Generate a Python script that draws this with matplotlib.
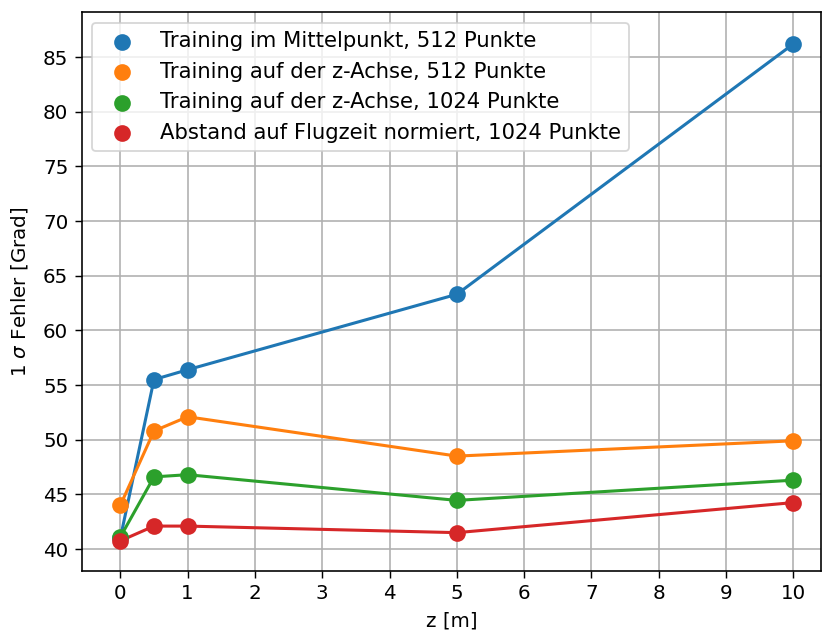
import matplotlib
matplotlib.use("Agg")
import matplotlib.pyplot as plt

z = [0, 0.5, 1, 5, 10]

labels = [
    "Training im Mittelpunkt, 512 Punkte",
    "Training auf der z-Achse, 512 Punkte",
    "Training auf der z-Achse, 1024 Punkte",
    "Abstand auf Flugzeit normiert, 1024 Punkte",
]
mittelpunkt_512 = [41.0, 55.5, 56.4, 63.3, 86.2]
zachse_512 = [44.0, 50.8, 52.1, 48.5, 49.9]
zachse_1024 = [41.1, 46.6, 46.8, 44.45, 46.3]
flugzeit_1024 = [40.75, 42.1, 42.1, 41.5, 44.25]

series = [mittelpunkt_512, zachse_512, zachse_1024, flugzeit_1024]
colors = ["#1f77b4", "#ff7f0e", "#2ca02c", "#d62728"]

plt.rcParams["font.size"] = 11
plt.rcParams["xtick.major.size"] = 3.9
plt.rcParams["ytick.major.size"] = 3.9
plt.rcParams["axes.linewidth"] = 0.9

fig = plt.figure(figsize=(822 / 130, 633 / 130), dpi=130)
ax = fig.add_axes([81.7 / 822, 1 - 570.7 / 633, (821 - 81.7) / 822, (570.7 - 12.3) / 633])

for values, color, label in zip(series, colors, labels):
    ax.plot(z, values, color=color, linewidth=1.7, zorder=2)
    ax.scatter(z, values, color=color, s=68, label=label, zorder=3)

ax.set_xlim(-0.574, 10.41)
ax.set_ylim(38.02, 89.09)
ax.set_xticks(range(0, 11))
ax.set_yticks(range(40, 86, 5))
ax.grid(True, color="#b0b0b0", linewidth=0.9)
ax.set_axisbelow(True)
ax.set_xlabel("z [m]", labelpad=4.5)
ax.set_ylabel(r"1 $\sigma$ Fehler [Grad]", labelpad=7)
ax.legend(loc="upper left", fontsize=11.7)

fig.savefig("out.png", dpi=130)
